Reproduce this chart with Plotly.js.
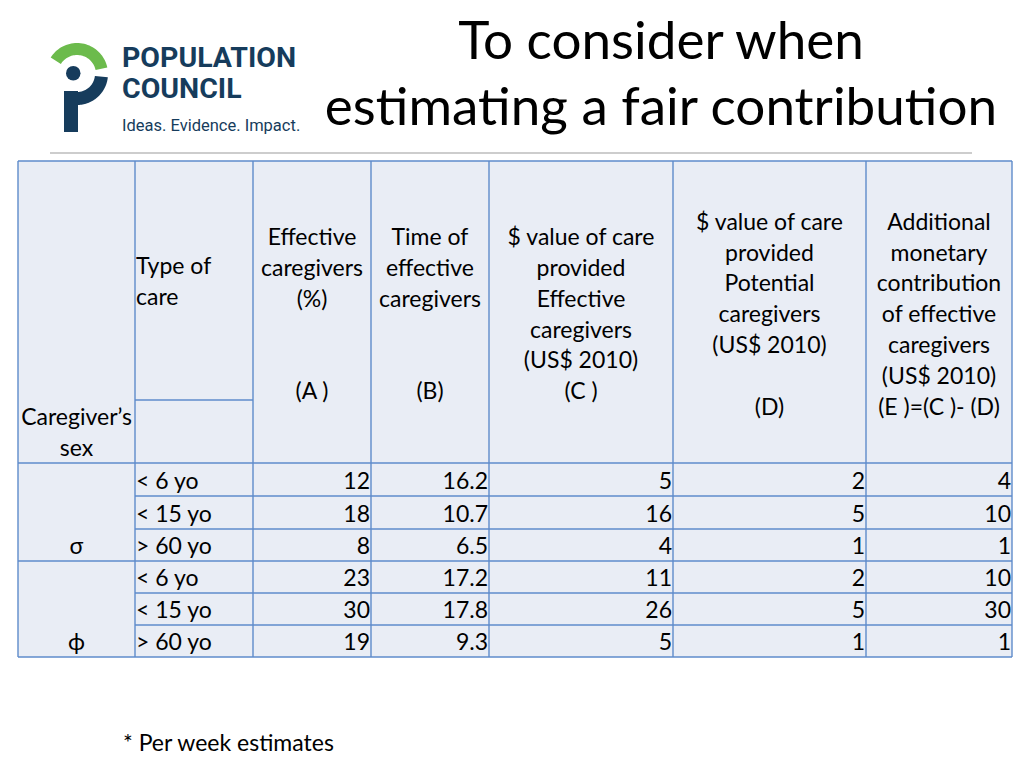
<!DOCTYPE html>
<html>
<head>
<meta charset="utf-8">
<script src="https://cdn.plot.ly/plotly-3.0.1.min.js"></script>
<style>html,body{margin:0;padding:0;background:#fff;}#chart{width:1024px;height:768px;}</style>
</head>
<body>
<div id="chart"></div>
<script>
// ---------- data ----------
const titleLines = ["To consider when", "estimating a fair contribution"];
const logoLines = ["POPULATION", "COUNCIL"];
const logoTagline = "Ideas. Evidence. Impact.";
const footnote = "* Per week estimates";

const sexHeader = ["Caregiver’s", "sex"];
const careHeader = ["Type of", "care"];
const valueHeaders = [
  ["Effective", "caregivers", "(%)", "", "", "(A )"],
  ["Time of", "effective", "caregivers", "", "", "(B)"],
  ["$ value of care", "provided", "Effective", "caregivers", "(US$ 2010)", "(C )"],
  ["$ value of care", "provided", "Potential", "caregivers", "(US$ 2010)", "", "(D)"],
  ["Additional", "monetary", "contribution", "of effective", "caregivers", "(US$ 2010)", "(E )=(C )- (D)"]
];

const sexLabels = ["σ", "ϕ"];
const careTypes = ["< 6 yo", "< 15 yo", "> 60 yo", "< 6 yo", "< 15 yo", "> 60 yo"];
const effectivePct = [12, 18, 8, 23, 30, 19];
const timeEffective = ["16.2", "10.7", "6.5", "17.2", "17.8", "9.3"];
const valueEffective = [5, 16, 4, 11, 26, 5];
const valuePotential = [2, 5, 1, 2, 5, 1];
const additionalContribution = [4, 10, 1, 10, 30, 1];

// ---------- layout geometry (positions only) ----------
const colEdges = [18, 135, 253, 371, 489, 673, 866, 1012];
const headTop = 161, headBottom = 463, careSplit = 400;
const rowEdges = [463, 496, 529, 561, 593, 625, 657];
const lineH = 30.8;
const FONT = "Lato, 'Open Sans', sans-serif";
const TXT = "#000000";
const BORDER = "#5E8BCB";
const FILL = "#E9EDF5";
const NAVY = "#163C5C";
const GREEN = "#6CBB4C";

const traces = [];
function textTrace(xs, ys, texts, pos, size, color, family) {
  traces.push({
    type: "scatter", mode: "text", x: xs, y: ys, text: texts,
    textposition: pos, cliponaxis: false, hoverinfo: "skip", showlegend: false,
    textfont: {family: family || FONT, size: size, color: color || TXT}
  });
}

// header: value columns (vertically centred blocks)
const headMid = (headTop + headBottom) / 2 + 4.5;
valueHeaders.forEach((lines, k) => {
  const cx = (colEdges[k + 2] + colEdges[k + 3]) / 2;
  const n = lines.length;
  const xs = [], ys = [], ts = [];
  lines.forEach((t, i) => {
    if (t === "") return;
    xs.push(cx); ys.push(headMid + (i - (n - 1) / 2) * lineH); ts.push(t);
  });
  textTrace(xs, ys, ts, "middle center", 23);
});
// header: type of care (upper sub-cell, left aligned)
{
  const mid = (headTop + careSplit) / 2 + 3.5;
  const n = careHeader.length;
  textTrace(careHeader.map(() => colEdges[1] + 1),
            careHeader.map((t, i) => mid + (i - (n - 1) / 2) * lineH),
            careHeader, "middle right", 23);
}
// header: caregiver's sex (bottom aligned, centred)
{
  const n = sexHeader.length;
  textTrace(sexHeader.map(() => (colEdges[0] + colEdges[1]) / 2),
            sexHeader.map((t, i) => headBottom - 12.5 - (n - 1 - i) * lineH),
            sexHeader, "middle center", 23);
}

// body
const rowMid = careTypes.map((t, i) => (rowEdges[i] + rowEdges[i + 1]) / 2 + 3.5);
textTrace(careTypes.map(() => colEdges[1] + 1), rowMid, careTypes, "middle right", 23);
const valueCols = [effectivePct, timeEffective, valueEffective, valuePotential, additionalContribution];
valueCols.forEach((vals, k) => {
  textTrace(vals.map(() => colEdges[k + 3] - 1), rowMid, vals.map(String), "middle left", 23);
});
// sex labels sit in the last row of each 3-row group
textTrace(sexLabels.map(() => (colEdges[0] + colEdges[1]) / 2),
          sexLabels.map((s, g) => rowMid[g * 3 + 2]), sexLabels, "middle center", 23);

// title
textTrace(titleLines.map(() => 661), [46, 112], titleLines, "middle center", 53);
// logo text
textTrace([122, 122], [60, 91], logoLines.map(t => "<b>" + t + "</b>"), "middle right", 28.5, NAVY, "Roboto, sans-serif");
textTrace([122], [127], [logoTagline], "middle right", 16.5, NAVY, "Roboto, sans-serif");
// footnote
textTrace([123], [745], [footnote], "middle right", 23);

// ---------- shapes ----------
const shapes = [];
function line(x0, y0, x1, y1, color, w) {
  shapes.push({type: "line", xref: "x", yref: "y", x0, y0, x1, y1, line: {color, width: w}, layer: "above"});
}
// table background
shapes.push({type: "rect", xref: "x", yref: "y", x0: colEdges[0], x1: colEdges[colEdges.length - 1],
  y0: headTop, y1: rowEdges[rowEdges.length - 1], fillcolor: FILL, line: {width: 0}, layer: "below"});
// separator under title
line(50, 153, 972, 153, "#BDBDBD", 1.5);
// vertical lines
colEdges.forEach(x => line(x, headTop, x, rowEdges[rowEdges.length - 1], BORDER, 1.4));
// horizontal lines
const xL = colEdges[0], xR = colEdges[colEdges.length - 1];
line(xL, headTop, xR, headTop, BORDER, 1.4);
line(colEdges[1], careSplit, colEdges[2], careSplit, BORDER, 1.4);
rowEdges.forEach((y, i) => {
  const full = (i === 0 || i === 3 || i === rowEdges.length - 1);
  line(full ? xL : colEdges[1], y, xR, y, BORDER, 1.4);
});

// logo shapes (arc polygons)
function ringPath(cx, cy, rOut, rIn, a0, a1) {
  const pts = [];
  const N = 40;
  for (let i = 0; i <= N; i++) {
    const a = (a0 + (a1 - a0) * i / N) * Math.PI / 180;
    pts.push([cx + rOut * Math.cos(a), cy - rOut * Math.sin(a)]);
  }
  for (let i = N; i >= 0; i--) {
    const a = (a0 + (a1 - a0) * i / N) * Math.PI / 180;
    pts.push([cx + rIn * Math.cos(a), cy - rIn * Math.sin(a)]);
  }
  return "M" + pts.map(p => p[0].toFixed(2) + "," + p[1].toFixed(2)).join(" L") + " Z";
}
const lcx = 77, lcy = 74;
shapes.push({type: "path", xref: "x", yref: "y", path: ringPath(lcx, lcy, 31, 19, 12, 148),
  fillcolor: GREEN, line: {width: 0}});
shapes.push({type: "path", xref: "x", yref: "y", path: ringPath(lcx, lcy, 31, 18, -90, -6),
  fillcolor: NAVY, line: {width: 0}});
shapes.push({type: "rect", xref: "x", yref: "y", x0: 64, x1: 78, y0: 91, y1: 132,
  fillcolor: NAVY, line: {width: 0}});
shapes.push({type: "circle", xref: "x", yref: "y", x0: 66, x1: 80.5, y0: 66, y1: 80.5,
  fillcolor: NAVY, line: {width: 0}});

const layout = {
  width: 1024, height: 768,
  margin: {l: 0, r: 0, t: 0, b: 0},
  paper_bgcolor: "#ffffff", plot_bgcolor: "#ffffff",
  xaxis: {range: [0, 1024], visible: false, fixedrange: true},
  yaxis: {range: [768, 0], visible: false, fixedrange: true},
  shapes: shapes,
  showlegend: false,
  hovermode: false
};
Plotly.newPlot("chart", traces, layout, {displayModeBar: false, staticPlot: true});
</script>
</body>
</html>
